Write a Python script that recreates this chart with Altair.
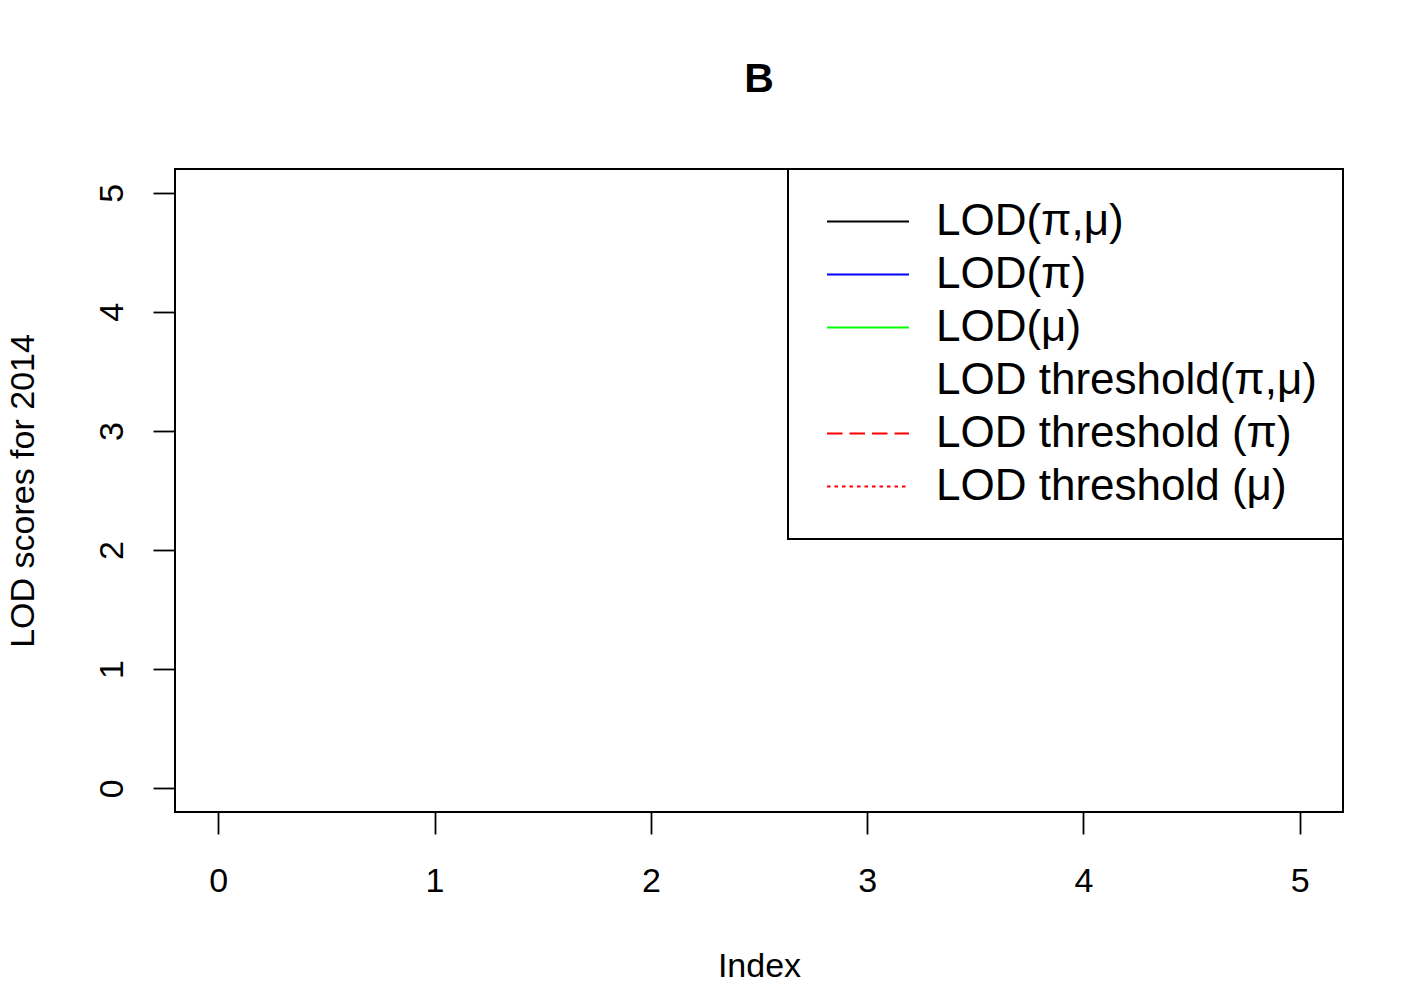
import altair as alt
import pandas as pd

# Series shown in the legend (the plot itself is empty: all values missing)
series = ["LOD(π,μ)", "LOD(π)", "LOD(μ)", "LOD threshold(π,μ)",
          "LOD threshold (π)", "LOD threshold (μ)"]
series_colors = ["#000000", "#0000FF", "#00FF00", "transparent", "#FF0000", "#FF0000"]
series_dashes = [[1, 0], [1, 0], [1, 0], [1, 0], [15.5, 7], [3.5, 4]]
index_values = [None] * len(series)
lod_values = [None] * len(series)

x_ticks = [0, 1, 2, 3, 4, 5]
y_ticks = [0, 1, 2, 3, 4, 5]
x_domain = [-0.2, 5.2]
y_domain = [-0.2, 5.2]

df = pd.DataFrame({"series": series, "Index": index_values, "LOD": lod_values})

FONT = "Liberation Sans"

legend = alt.Legend(
    title=None,
    orient="top-right",
    offset=0,
    symbolType="stroke",
    symbolSize=6724,
    symbolStrokeWidth=2,
    labelFont=FONT,
    labelFontSize=44,
    labelColor="black",
    labelLimit=2000,
    clipHeight=53,
    rowPadding=0,
    padding=26,
    symbolOffset=12,
    labelOffset=26,
    strokeColor="black",
    fillColor="white",
    cornerRadius=0,
)

chart = alt.Chart(df).mark_line(strokeWidth=2).encode(
    x=alt.X("Index:Q",
            scale=alt.Scale(domain=x_domain, nice=False, zero=False),
            axis=alt.Axis(values=x_ticks, title="Index", grid=False, domain=False,
                          tickSize=22, tickWidth=1.8, tickColor="black",
                          labelFont=FONT, labelFontSize=34, labelColor="black",
                          labelBaseline="alphabetic", labelPadding=57,
                          titleFont=FONT, titleFontSize=34, titleFontWeight="normal",
                          titleColor="black", titleBaseline="alphabetic",
                          titleX=584, titleY=164, titleAlign="center")),
    y=alt.Y("LOD:Q",
            scale=alt.Scale(domain=y_domain, nice=False, zero=False),
            axis=alt.Axis(values=y_ticks, title="LOD scores for 2014", grid=False,
                          domain=False, tickSize=22, tickWidth=1.8, tickColor="black",
                          labelFont=FONT, labelFontSize=34, labelColor="black",
                          labelAngle=-90, labelAlign="center",
                          labelBaseline="alphabetic", labelPadding=31,
                          titleFont=FONT, titleFontSize=34, titleFontWeight="normal",
                          titleColor="black", titleAngle=-90, titleBaseline="alphabetic",
                          titleAlign="center", titleX=-142, titleY=321.5)),
    color=alt.Color("series:N",
                    scale=alt.Scale(domain=series, range=series_colors),
                    legend=legend),
    strokeDash=alt.StrokeDash("series:N",
                              scale=alt.Scale(domain=series, range=series_dashes),
                              legend=legend),
).properties(
    width=1168,
    height=643,
    title=alt.TitleParams("B", font=FONT, fontSize=41, fontWeight="bold",
                          color="black", anchor="middle", frame="group",
                          baseline="alphabetic", offset=35),
    autosize=alt.AutoSizeParams(type="none"),
    padding={"left": 167, "top": 161, "right": 60, "bottom": 180},
).configure(
    background="white"
).configure_view(
    stroke="black", strokeWidth=2, fill="white"
).configure_legend(
    strokeWidth=2
)

chart.save("out.html", embed_options={"renderer": "svg", "actions": False})
